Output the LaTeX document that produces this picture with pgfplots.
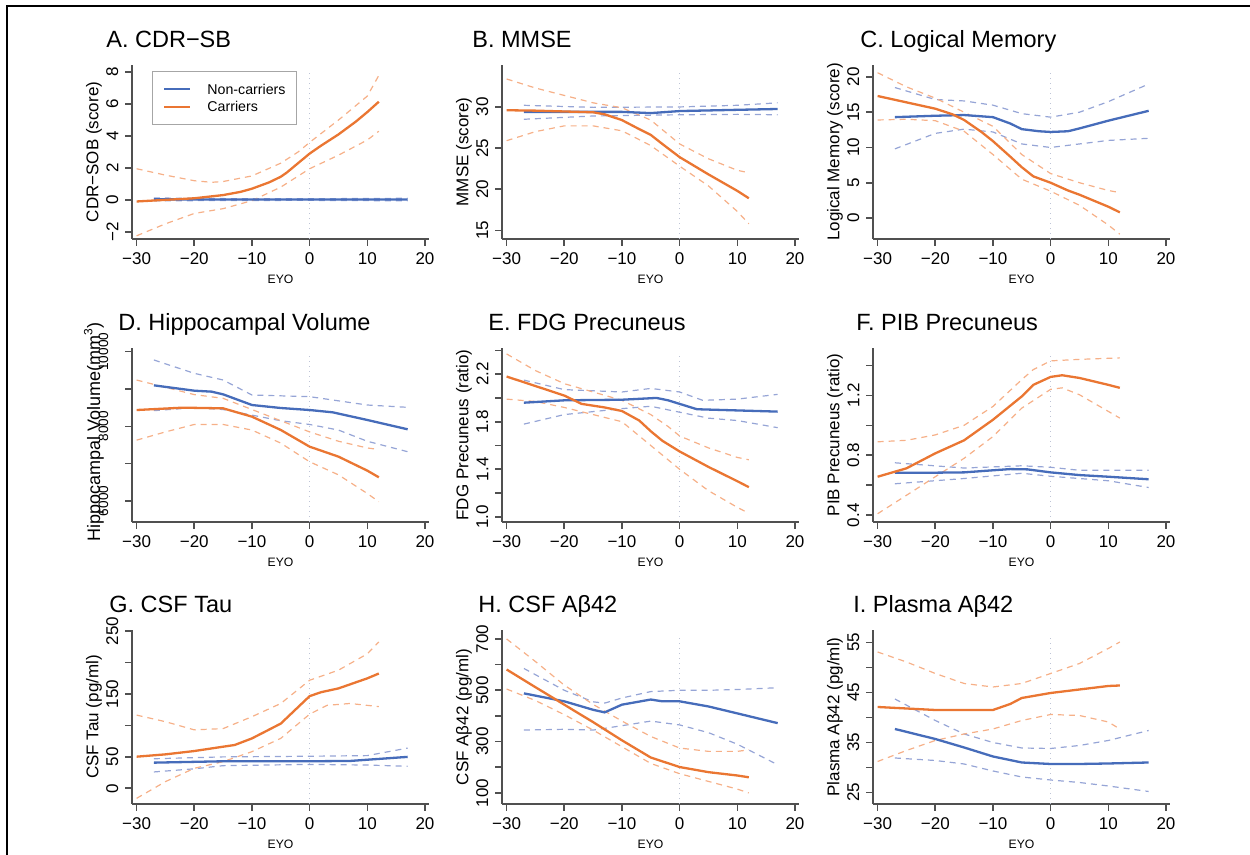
\documentclass[border=0pt]{standalone}
\usepackage{pgfplots}
\pgfplotsset{compat=1.18}
\usepackage{fontspec}
\setmainfont{Liberation Sans}

\definecolor{ncblue}{RGB}{70,108,186}
\definecolor{corange}{RGB}{234,118,50}
\definecolor{ncblueL}{RGB}{150,165,214}
\definecolor{corangeL}{RGB}{246,176,136}
\definecolor{axgray}{RGB}{80,80,80}
\definecolor{zgray}{RGB}{190,196,214}

\pgfplotsset{
  panel/.style={
    scale only axis, width=148.5pt, height=87pt, anchor=south west,
    xmin=-30.8, xmax=20.7,
    axis x line=bottom, axis y line=left,
    axis line style={draw=axgray, line width=0.9pt, -},
    tick style={draw=axgray, line width=0.8pt},
    major tick length=3.3pt, tick align=outside,
    scaled y ticks=false,
    xtick={-30,-20,...,20}, xticklabels={−30,−20,−10,0,10,20},
    ticklabel style={font=\fontsize{8.5}{9}\selectfont},
    yticklabel style={rotate=90, anchor=south},
    xlabel={EYO},
    every axis x label/.style={at={(rel axis cs:0.5,0)}, yshift=-20pt, anchor=center,
      font=\fontsize{6.1}{7}\selectfont},
    every axis y label/.style={at={(rel axis cs:0,0.5)}, xshift=-19pt, rotate=90, anchor=center,
      font=\fontsize{8.5}{9}\selectfont},
  },
  nc/.style={ncblue, line width=1.15pt},
  ca/.style={corange, line width=1.15pt},
  ncci/.style={ncblueL, line width=0.6pt, dash pattern=on 3pt off 2.5pt},
  caci/.style={corangeL, line width=0.6pt, dash pattern=on 3pt off 2.5pt},
}
\newcommand{\zeroline}{\draw[zgray, line width=0.5pt, dotted] ({axis cs:0,0}|-{rel axis cs:0,0}) -- ({axis cs:0,0}|-{rel axis cs:0,0.97});}
\newcommand{\ttl}{\fontsize{11.75}{13}\selectfont}

\begin{document}
\begin{tikzpicture}
\useasboundingbox (0,0) rectangle (625pt,427.5pt);
\draw[line width=1.3pt] (3.5pt,0) -- (3.5pt,424.5pt) -- (625pt,424.5pt);

% A. CDR-SB
\begin{axis}[panel, at={(66pt,308pt)}, ymin=-2.45, ymax=8.45,
  ytick={-2,0,...,8}, yticklabels={−2,0,2,4,6,8}, ylabel={CDR−SOB (score)}]
\zeroline
\addplot[ncci] coordinates {(-27,0.12) (-15,0.08) (0,0.07) (17,0.1)};
\addplot[ncci] coordinates {(-27,-0.06) (-15,-0.04) (0,-0.03) (17,-0.06)};
\addplot[caci] coordinates {(-30,1.95) (-25,1.55) (-20,1.2) (-17,1.1) (-15,1.15) (-10,1.5) (-5,2.3) (-2,3.0) (0,3.6) (5,5.0) (10,6.5) (12,7.8)};
\addplot[caci] coordinates {(-30,-2.25) (-25,-1.5) (-20,-0.85) (-15,-0.55) (-10,-0.05) (-5,0.8) (0,1.95) (5,2.8) (10,3.75) (12,4.3)};
\addplot[nc] coordinates {(-27,0.03) (-20,0.03) (-10,0.02) (0,0.02) (10,0.02) (17,0.02)};
\addplot[ca] coordinates {(-30,-0.1) (-25,0.0) (-20,0.1) (-15,0.3) (-12,0.5) (-10,0.7) (-7,1.1) (-5,1.45) (-4,1.7) (-2,2.3) (0,2.9) (2,3.4) (5,4.1) (8,4.9) (10,5.5) (12,6.15)};
\end{axis}

% B. MMSE
\begin{axis}[panel, at={(251pt,308pt)}, ymin=13.95, ymax=35.1,
  ytick={15,20,25,30}, yticklabels={15,20,25,30}, ylabel={MMSE (score)}]
\zeroline
\addplot[ncci] coordinates {(-27,30.2) (-15,29.95) (0,30.0) (10,30.2) (17,30.5)};
\addplot[ncci] coordinates {(-27,28.5) (-15,28.9) (0,29.05) (10,29.1) (17,29.05)};
\addplot[caci] coordinates {(-30,33.4) (-25,32.3) (-20,31.4) (-15,30.5) (-10,29.9) (-5,28.4) (0,25.5) (5,23.7) (10,22.3) (12,22.0)};
\addplot[caci] coordinates {(-30,25.9) (-25,27.0) (-20,27.7) (-15,27.7) (-10,27.1) (-5,25.3) (0,22.8) (5,20.4) (10,17.3) (12,15.8)};
\addplot[nc] coordinates {(-27,29.4) (-20,29.4) (-10,29.4) (-5,29.25) (0,29.5) (10,29.65) (17,29.75)};
\addplot[ca] coordinates {(-30,29.6) (-25,29.55) (-20,29.45) (-15,29.35) (-13,29.1) (-10,28.4) (-7,27.3) (-5,26.6) (-3,25.5) (0,23.9) (5,21.8) (10,19.8) (12,18.9)};
\end{axis}

% C. Logical Memory
\begin{axis}[panel, at={(436.5pt,308pt)}, ymin=-2.98, ymax=21.7,
  ytick={0,5,...,20}, yticklabels={0,5,10,15,20}, ylabel={Logical Memory (score)}]
\zeroline
\addplot[ncci] coordinates {(-27,18.5) (-20,16.8) (-15,16.6) (-10,16.0) (-5,14.8) (0,14.3) (5,15.0) (10,16.5) (17,19.0)};
\addplot[ncci] coordinates {(-27,9.8) (-20,12.0) (-15,12.6) (-10,12.2) (-5,10.5) (0,10.0) (5,10.5) (10,11.0) (17,11.3)};
\addplot[caci] coordinates {(-30,20.6) (-25,18.6) (-20,17.0) (-15,15.0) (-10,13.0) (-5,9.0) (0,6.3) (5,5.0) (10,3.9) (12,3.6)};
\addplot[caci] coordinates {(-30,13.9) (-25,14.0) (-20,13.8) (-15,12.3) (-10,9.0) (-5,5.5) (0,3.8) (5,1.8) (10,-1.0) (12,-2.3)};
\addplot[nc] coordinates {(-27,14.3) (-20,14.5) (-15,14.6) (-10,14.3) (-7,13.4) (-5,12.6) (-2,12.3) (0,12.2) (3,12.3) (5,12.7) (10,13.8) (17,15.2)};
\addplot[ca] coordinates {(-30,17.3) (-25,16.4) (-20,15.5) (-17,14.7) (-15,13.9) (-12,12.2) (-10,10.9) (-7,8.7) (-5,7.2) (-3,5.9) (0,5.0) (3,3.9) (5,3.3) (10,1.6) (12,0.8)};
\end{axis}

% D. Hippocampal Volume
\begin{axis}[panel, at={(66pt,166.5pt)}, ymin=5437, ymax=10099,
  ytick={6000,7000,...,10000}, yticklabels={6000,,8000,,10000},
  yticklabel shift=5pt, yticklabel style={font=\fontsize{6.8}{7}\selectfont},
  ylabel={Hippocampal Volume(mm\textsuperscript{3})},
  ylabel style={xshift=1.5pt, font=\fontsize{9}{10}\selectfont}]
\zeroline
\addplot[ncci] coordinates {(-27,9777) (-20,9420) (-15,9241) (-10,8839) (0,8795) (10,8571) (17,8509)};
\addplot[ncci] coordinates {(-27,8420) (-20,8500) (-15,8450) (-10,8300) (-5,8150) (0,8050) (5,7900) (10,7600) (17,7320)};
\addplot[caci] coordinates {(-30,9240) (-20,8850) (-15,8750) (-10,8450) (-5,8150) (0,7850) (5,7600) (10,7420) (12,7380)};
\addplot[caci] coordinates {(-30,7630) (-25,7850) (-20,8050) (-15,8050) (-10,7900) (-5,7550) (0,7050) (5,6700) (10,6200) (12,5980)};
\addplot[nc] coordinates {(-27,9098) (-20,8955) (-17,8929) (-15,8857) (-10,8571) (-5,8491) (0,8437) (4,8375) (10,8170) (17,7920)};
\addplot[ca] coordinates {(-30,8437) (-22,8500) (-15,8482) (-10,8259) (-5,7902) (0,7455) (5,7188) (10,6813) (12,6634)};
\end{axis}

% E. FDG Precuneus
\begin{axis}[panel, at={(251pt,166.5pt)}, ymin=0.957, ymax=2.42,
  ytick={1.0,1.2,...,2.4}, yticklabels={1.0,,1.4,,1.8,,2.2,}, ylabel={FDG Precuneus (ratio)}]
\zeroline
\addplot[ncci] coordinates {(-27,2.15) (-20,2.07) (-10,2.05) (-5,2.08) (0,2.05) (4,1.98) (10,1.99) (17,2.03)};
\addplot[ncci] coordinates {(-27,1.78) (-20,1.86) (-10,1.91) (-5,1.93) (0,1.88) (5,1.83) (10,1.81) (17,1.75)};
\addplot[caci] coordinates {(-30,2.37) (-25,2.23) (-20,2.12) (-15,2.05) (-10,1.98) (-5,1.86) (-2,1.76) (0,1.68) (5,1.58) (10,1.5) (12,1.48)};
\addplot[caci] coordinates {(-30,1.99) (-25,1.97) (-20,1.92) (-15,1.86) (-10,1.8) (-5,1.6) (0,1.4) (5,1.22) (10,1.08) (12,1.03)};
\addplot[nc] coordinates {(-27,1.96) (-20,1.98) (-10,1.985) (-4,2.0) (-2,1.98) (0,1.95) (3,1.905) (10,1.895) (17,1.885)};
\addplot[ca] coordinates {(-30,2.18) (-25,2.1) (-20,2.02) (-17,1.95) (-13,1.92) (-10,1.89) (-7,1.81) (-5,1.72) (-3,1.64) (0,1.55) (5,1.42) (10,1.3) (12,1.25)};
\end{axis}

% F. PIB Precuneus
\begin{axis}[panel, at={(436.5pt,166.5pt)}, ymin=0.355, ymax=1.516,
  ytick={0.4,0.6,...,1.4}, yticklabels={0.4,,0.8,,1.2,}, ylabel={PIB Precuneus (ratio)}]
\zeroline
\addplot[ncci] coordinates {(-27,0.75) (-15,0.715) (-5,0.73) (0,0.72) (5,0.70) (17,0.70)};
\addplot[ncci] coordinates {(-27,0.61) (-15,0.645) (-5,0.68) (0,0.66) (10,0.63) (17,0.585)};
\addplot[caci] coordinates {(-30,0.89) (-25,0.90) (-20,0.936) (-15,1.0) (-10,1.126) (-5,1.305) (-3,1.372) (0,1.43) (5,1.44) (12,1.45)};
\addplot[caci] coordinates {(-30,0.41) (-25,0.533) (-20,0.657) (-15,0.78) (-10,0.925) (-5,1.115) (0,1.24) (2,1.25) (5,1.204) (10,1.093) (12,1.048)};
\addplot[nc] coordinates {(-27,0.684) (-20,0.684) (-15,0.686) (-10,0.70) (-7,0.708) (-4,0.706) (0,0.686) (5,0.668) (10,0.657) (17,0.64)};
\addplot[ca] coordinates {(-30,0.657) (-25,0.713) (-20,0.813) (-15,0.90) (-10,1.037) (-5,1.193) (-3,1.27) (0,1.323) (2,1.334) (5,1.316) (10,1.27) (12,1.25)};
\end{axis}

% G. CSF Tau
\begin{axis}[panel, at={(66pt,25.5pt)}, ymin=-25, ymax=252,
  ytick={0,50,...,250}, yticklabels={0,50,,150,,250}, ylabel={CSF Tau (pg/ml)}]
\zeroline
\addplot[ncci] coordinates {(-27,47) (-15,50) (0,51) (10,52) (17,64)};
\addplot[ncci] coordinates {(-27,26) (-20,31) (-15,36) (0,38) (10,37) (17,35)};
\addplot[caci] coordinates {(-30,116.5) (-25,106) (-20,93) (-15,95) (-10,114) (-5,135) (0,172) (5,188) (10,214) (12,233)};
\addplot[caci] coordinates {(-30,-16) (-25,10.6) (-20,31.8) (-15,42.4) (-10,58.3) (-5,79.5) (0,118) (3,132) (7,135) (10,132) (12,130)};
\addplot[nc] coordinates {(-27,40.8) (-15,43) (0,43) (7,43.5) (17,50)};
\addplot[ca] coordinates {(-30,50.3) (-25,54) (-20,59.3) (-15,66.2) (-13,68.9) (-10,79.4) (-5,103) (0,146.7) (2,153) (5,159) (10,175) (12,182.7)};
\end{axis}

% H. CSF Abeta42
\begin{axis}[panel, at={(251pt,25.5pt)}, ymin=57, ymax=735,
  ytick={100,200,...,700}, yticklabels={100,,300,,500,,700}, ylabel={CSF Aβ42 (pg/ml)}]
\zeroline
\addplot[ncci] coordinates {(-27,585) (-20,500) (-15,455) (-13,450) (-10,470) (-5,495) (0,500) (5,500) (10,503) (17,510)};
\addplot[ncci] coordinates {(-27,345) (-20,348) (-15,345) (-10,362) (-5,380) (0,365) (5,335) (10,290) (17,210)};
\addplot[caci] coordinates {(-30,700) (-25,612) (-20,520) (-15,445) (-10,380) (-5,320) (0,275) (5,262) (10,262) (12,268)};
\addplot[caci] coordinates {(-30,505) (-25,460) (-20,405) (-15,345) (-10,280) (-5,215) (0,175) (5,145) (10,115) (12,100)};
\addplot[nc] coordinates {(-27,488) (-20,457) (-15,424) (-13,414) (-10,444) (-5,464) (-3,457) (0,457) (5,437) (10,410) (17,372)};
\addplot[ca] coordinates {(-30,581) (-25,512) (-20,444) (-17,403) (-15,376) (-10,305) (-5,238) (0,201) (5,181) (10,168) (12,161)};
\end{axis}

% I. Plasma Abeta42
\begin{axis}[panel, at={(436.5pt,25.5pt)}, ymin=22.7, ymax=57.5,
  ytick={25,30,...,55}, yticklabels={25,,35,,45,,55}, ylabel={Plasma Aβ42 (pg/ml)}]
\zeroline
\addplot[ncci] coordinates {(-27,43.7) (-20,39.4) (-15,36.7) (-10,35.0) (-5,33.9) (0,33.8) (5,34.4) (10,35.4) (17,37.4)};
\addplot[ncci] coordinates {(-27,31.9) (-20,31.4) (-15,30.7) (-10,29.3) (-5,28.1) (0,27.5) (5,27.0) (10,26.3) (17,25.2)};
\addplot[caci] coordinates {(-30,53.1) (-25,51.1) (-20,48.8) (-15,46.8) (-10,46.1) (-5,46.8) (0,48.8) (5,50.8) (10,53.8) (12,55.1)};
\addplot[caci] coordinates {(-30,31.2) (-25,33.4) (-20,35.4) (-15,36.7) (-10,37.7) (-5,39.4) (0,40.6) (5,40.4) (10,39.1) (12,37.7)};
\addplot[nc] coordinates {(-27,37.7) (-20,35.7) (-15,34.0) (-10,32.2) (-5,31.0) (0,30.7) (5,30.7) (10,30.8) (17,31.0)};
\addplot[ca] coordinates {(-30,42.1) (-20,41.5) (-15,41.5) (-10,41.5) (-7,42.7) (-5,43.9) (0,44.9) (5,45.6) (10,46.3) (12,46.4)};
\end{axis}

% legend of panel A
\draw[gray!70, line width=0.5pt] (76.35pt,365pt) rectangle (148.35pt,391.65pt);
\draw[ncblue, line width=0.9pt] (82pt,382.85pt) -- (95pt,382.85pt);
\draw[corange, line width=0.9pt] (82pt,374.15pt) -- (95pt,374.15pt);
\node[anchor=base west, inner sep=0pt, font=\fontsize{7.1}{8}\selectfont] at (103.5pt,380.3pt) {Non-carriers};
\node[anchor=base west, inner sep=0pt, font=\fontsize{7.1}{8}\selectfont] at (103.5pt,371.6pt) {Carriers};

% panel titles
\node[anchor=base west, font=\ttl, inner sep=0pt] at (53pt,403.5pt) {A. CDR−SB};
\node[anchor=base west, font=\ttl, inner sep=0pt] at (236pt,403.5pt) {B. MMSE};
\node[anchor=base west, font=\ttl, inner sep=0pt] at (430pt,403.5pt) {C. Logical Memory};
\node[anchor=base west, font=\ttl, inner sep=0pt] at (59pt,262pt) {D. Hippocampal Volume};
\node[anchor=base west, font=\ttl, inner sep=0pt] at (244pt,262pt) {E. FDG Precuneus};
\node[anchor=base west, font=\ttl, inner sep=0pt] at (428pt,262pt) {F. PIB Precuneus};
\node[anchor=base west, font=\ttl, inner sep=0pt] at (54.5pt,121pt) {G. CSF Tau};
\node[anchor=base west, font=\ttl, inner sep=0pt] at (239pt,121pt) {H. CSF Aβ42};
\node[anchor=base west, font=\ttl, inner sep=0pt] at (426.5pt,121pt) {I. Plasma Aβ42};
\end{tikzpicture}
\end{document}
